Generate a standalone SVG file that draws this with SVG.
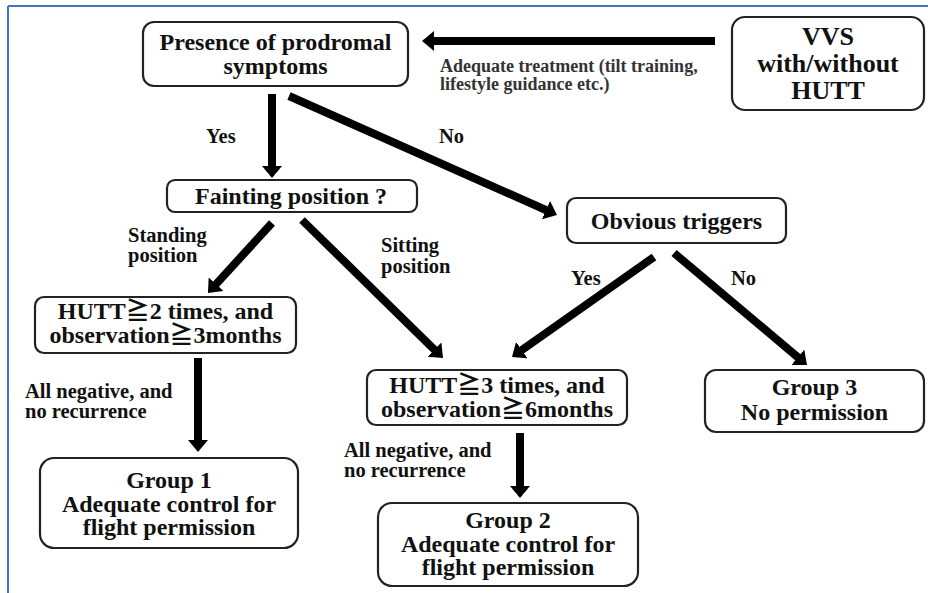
<svg xmlns="http://www.w3.org/2000/svg" width="928" height="593" viewBox="0 0 928 593">
<defs>
<style>
.box{fill:#fff;stroke:#222;stroke-width:2.2}
.t{font-weight:bold;fill:#111;text-anchor:middle;font-size:24px}
.l{font-weight:bold;fill:#111;font-size:20.5px}
.s{font-size:18px;fill:#333}
.a{stroke:#000;stroke-width:8;fill:none}
</style>
<marker id="ah" viewBox="0 0 12 20" refX="6" refY="10" markerWidth="12" markerHeight="20" markerUnits="userSpaceOnUse" orient="auto">
<path d="M0,0 L12,10 L0,20 z" fill="#000"/>
</marker>
</defs>
<rect x="0" y="0" width="928" height="593" fill="#fff"/>
<g id="frame">
<line x1="8" y1="6" x2="928" y2="6" stroke="#4472C4" stroke-width="2"/>
<line x1="8" y1="6" x2="8" y2="593" stroke="#4472C4" stroke-width="2"/>
</g>
<g id="connectors">
<line class="a" x1="715" y1="41" x2="428" y2="41" stroke-width="7" marker-end="url(#ah)"/>
<line class="a" x1="272" y1="94" x2="272" y2="172" stroke-width="9" marker-end="url(#ah)"/>
<line class="a" x1="289" y1="96" x2="551.5" y2="212.5" marker-end="url(#ah)"/>
<line class="a" x1="272" y1="223" x2="212" y2="288.6" marker-end="url(#ah)"/>
<line class="a" x1="302" y1="220" x2="438.7" y2="353.8" marker-end="url(#ah)"/>
<line class="a" x1="198" y1="358" x2="198" y2="446" stroke-width="9" marker-end="url(#ah)"/>
<line class="a" x1="654" y1="257" x2="516.9" y2="353.5" marker-end="url(#ah)"/>
<line class="a" x1="674" y1="253" x2="802.4" y2="361.1" marker-end="url(#ah)"/>
<line class="a" x1="520" y1="433" x2="520" y2="492" stroke-width="9" marker-end="url(#ah)"/>
</g>
<g id="labels">
<text class="l s" font-family="Liberation Serif" style="font-family:'Liberation Serif',serif" x="440" y="72">Adequate treatment (tilt training,</text>
<text class="l s" font-family="Liberation Serif" style="font-family:'Liberation Serif',serif" x="440" y="90">lifestyle guidance etc.)</text>
<text class="l" font-family="Liberation Serif" style="font-family:'Liberation Serif',serif" x="206" y="143" font-size="23">Yes</text>
<text class="l" font-family="Liberation Serif" style="font-family:'Liberation Serif',serif" x="439" y="143" font-size="23">No</text>
<text class="l" font-family="Liberation Serif" style="font-family:'Liberation Serif',serif" x="128" y="242">Standing</text>
<text class="l" font-family="Liberation Serif" style="font-family:'Liberation Serif',serif" x="128" y="262">position</text>
<text class="l" font-family="Liberation Serif" style="font-family:'Liberation Serif',serif" x="381" y="252">Sitting</text>
<text class="l" font-family="Liberation Serif" style="font-family:'Liberation Serif',serif" x="381" y="273">position</text>
<text class="l" font-family="Liberation Serif" style="font-family:'Liberation Serif',serif" x="571" y="285" font-size="23">Yes</text>
<text class="l" font-family="Liberation Serif" style="font-family:'Liberation Serif',serif" x="731" y="285" font-size="23">No</text>
<text class="l" font-family="Liberation Serif" style="font-family:'Liberation Serif',serif" x="25" y="398">All negative, and</text>
<text class="l" font-family="Liberation Serif" style="font-family:'Liberation Serif',serif" x="25" y="418">no recurrence</text>
<text class="l" font-family="Liberation Serif" style="font-family:'Liberation Serif',serif" x="344" y="457">All negative, and</text>
<text class="l" font-family="Liberation Serif" style="font-family:'Liberation Serif',serif" x="344" y="477">no recurrence</text>
</g>
<g id="n-prodromal">
<rect class="box" x="143" y="22" width="265" height="64" rx="11"/>
<text class="t" font-family="Liberation Serif" style="font-family:'Liberation Serif',serif" x="275.5" y="50">Presence of prodromal</text>
<text class="t" font-family="Liberation Serif" style="font-family:'Liberation Serif',serif" x="275.5" y="74">symptoms</text>
</g>
<g id="n-vvs">
<rect class="box" x="732" y="17" width="192" height="93" rx="13"/>
<text class="t" font-family="Liberation Serif" style="font-family:'Liberation Serif',serif;font-size:26px" x="828" y="45">VVS</text>
<text class="t" font-family="Liberation Serif" style="font-family:'Liberation Serif',serif;font-size:26px" x="828" y="72">with/without</text>
<text class="t" font-family="Liberation Serif" style="font-family:'Liberation Serif',serif;font-size:26px" x="828" y="99">HUTT</text>
</g>
<g id="n-fainting">
<rect class="box" x="167" y="180" width="250" height="32" rx="8"/>
<text class="t" font-family="Liberation Serif" style="font-family:'Liberation Serif',serif" x="291" y="204">Fainting position ?</text>
</g>
<g id="n-triggers">
<rect class="box" x="567" y="198" width="219" height="45" rx="9"/>
<text class="t" font-family="Liberation Serif" style="font-family:'Liberation Serif',serif" x="676.5" y="229">Obvious triggers</text>
</g>
<g id="n-hutt2">
<rect class="box" x="35" y="297" width="261" height="56" rx="9"/>
<text class="t" font-family="Liberation Serif" style="font-family:'Liberation Serif',serif" x="165.5" y="319">HUTT<tspan style="font-family:'Noto Sans CJK JP',sans-serif">≧</tspan>2 times, and</text>
<text class="t" font-family="Liberation Serif" style="font-family:'Liberation Serif',serif" x="165.5" y="343">observation<tspan style="font-family:'Noto Sans CJK JP',sans-serif">≧</tspan>3months</text>
</g>
<g id="n-hutt3">
<rect class="box" x="367" y="370" width="260" height="55" rx="9"/>
<text class="t" font-family="Liberation Serif" style="font-family:'Liberation Serif',serif" x="497" y="393">HUTT<tspan style="font-family:'Noto Sans CJK JP',sans-serif">≧</tspan>3 times, and</text>
<text class="t" font-family="Liberation Serif" style="font-family:'Liberation Serif',serif" x="497" y="417">observation<tspan style="font-family:'Noto Sans CJK JP',sans-serif">≧</tspan>6months</text>
</g>
<g id="n-group3">
<rect class="box" x="705" y="370" width="219" height="62" rx="11"/>
<text class="t" font-family="Liberation Serif" style="font-family:'Liberation Serif',serif" x="814.5" y="395">Group 3</text>
<text class="t" font-family="Liberation Serif" style="font-family:'Liberation Serif',serif" x="814.5" y="420">No permission</text>
</g>
<g id="n-group1">
<rect class="box" x="40" y="458" width="258" height="90" rx="14"/>
<text class="t" font-family="Liberation Serif" style="font-family:'Liberation Serif',serif" x="169" y="488">Group 1</text>
<text class="t" font-family="Liberation Serif" style="font-family:'Liberation Serif',serif" x="169" y="512">Adequate control for</text>
<text class="t" font-family="Liberation Serif" style="font-family:'Liberation Serif',serif" x="169" y="535">flight permission</text>
</g>
<g id="n-group2">
<rect class="box" x="378" y="503" width="260" height="83" rx="14"/>
<text class="t" font-family="Liberation Serif" style="font-family:'Liberation Serif',serif" x="508" y="528">Group 2</text>
<text class="t" font-family="Liberation Serif" style="font-family:'Liberation Serif',serif" x="508" y="552">Adequate control for</text>
<text class="t" font-family="Liberation Serif" style="font-family:'Liberation Serif',serif" x="508" y="575">flight permission</text>
</g>
</svg>
